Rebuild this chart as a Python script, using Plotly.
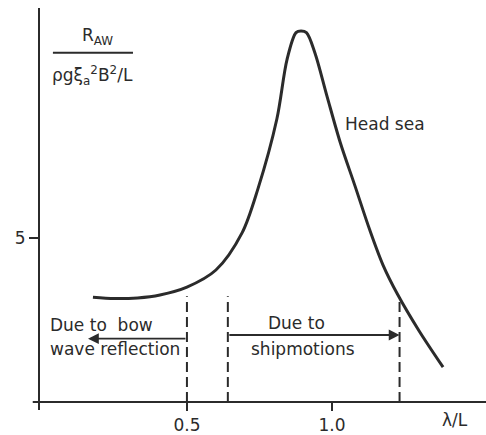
import plotly.graph_objects as go

# Curve: added resistance coefficient vs lambda/L (head sea)
lam = [0.176, 0.25, 0.33, 0.407, 0.50, 0.60, 0.69, 0.745, 0.810, 0.845, 0.876, 0.893,
       0.912, 0.941, 0.983, 1.028, 1.079, 1.131, 1.176, 1.226, 1.30, 1.383]
raw = [3.19, 3.15, 3.17, 3.26, 3.50, 4.02, 5.15, 6.50, 8.62, 10.43, 11.25, 11.30,
       11.25, 10.64, 9.31, 7.92, 6.59, 5.22, 4.17, 3.28, 2.17, 1.06]

# Dashed boundary lines (x position, top value)
bound_x = [0.5, 0.641, 1.233]
bound_top = [3.22, 3.22, 3.2]

x_ticks = [0.5, 1.0]
x_ticklabels = ["0.5", "1.0"]
y_ticks = [5]
y_ticklabels = ["5"]

INK = "#2b2b2b"
FONT = dict(family="DejaVu Sans", size=17, color=INK)

fig = go.Figure()
fig.add_trace(go.Scatter(x=lam, y=raw, mode="lines",
                         line=dict(color=INK, width=3, shape="spline", smoothing=0.9),
                         hoverinfo="skip", showlegend=False))

for bx, bt in zip(bound_x, bound_top):
    fig.add_shape(type="line", x0=bx, x1=bx, y0=0, y1=bt, xref="x", yref="y",
                  line=dict(color=INK, width=2, dash="10px,5px"))

# axes lines with slight overhang
fig.add_shape(type="line", xref="paper", yref="paper", x0=-0.014, x1=1, y0=0, y1=0,
              line=dict(color=INK, width=2))
fig.add_shape(type="line", xref="paper", yref="paper", x0=0, x1=0, y0=-0.02, y1=1,
              line=dict(color=INK, width=2))

# fraction bar of y label
fig.add_shape(type="line", xref="x", yref="y", x0=0.038, x1=0.314, y0=10.64, y1=10.64,
              line=dict(color=INK, width=2))

ann = []
ann.append(dict(x=0.19, y=11.12, text="R<sub>AW</sub>", showarrow=False, font=FONT,
                xanchor="center", yanchor="middle"))
ann.append(dict(x=0.176, y=9.95, text="ρgξ<sub>a</sub><sup>2</sup>B<sup>2</sup>/L",
                showarrow=False, font=FONT, xanchor="center", yanchor="middle"))
ann.append(dict(x=0.021, y=2.36, text="Due to  bow", showarrow=False, font=FONT,
                xanchor="left", yanchor="middle"))
ann.append(dict(x=0.021, y=1.60, text="wave reflection", showarrow=False, font=FONT,
                xanchor="left", yanchor="middle"))
ann.append(dict(x=0.879, y=2.42, text="Due to", showarrow=False, font=FONT,
                xanchor="center", yanchor="middle"))
ann.append(dict(x=0.90, y=1.60, text="shipmotions", showarrow=False, font=FONT,
                xanchor="center", yanchor="middle"))
ann.append(dict(x=1.038, y=8.46, text="Head sea", showarrow=False, font=FONT,
                xanchor="left", yanchor="middle"))
ann.append(dict(x=1.424, y=-0.045, xref="x", yref="paper", text="λ/L", showarrow=False,
                font=FONT, xanchor="center", yanchor="middle"))
# arrows
ann.append(dict(x=0.159, y=1.93, ax=0.5, ay=1.93, axref="x", ayref="y", xref="x", yref="y",
                text="", showarrow=True, arrowhead=2, arrowsize=1.2, arrowwidth=1.8,
                arrowcolor=INK))
ann.append(dict(x=1.233, y=2.04, ax=0.641, ay=2.04, axref="x", ayref="y", xref="x", yref="y",
                text="", showarrow=True, arrowhead=2, arrowsize=1.2, arrowwidth=1.8,
                arrowcolor=INK))

fig.update_layout(
    width=486, height=435,
    margin=dict(l=39, r=0, t=8, b=30),
    paper_bgcolor="white", plot_bgcolor="white",
    annotations=ann,
    xaxis=dict(range=[-0.01, 1.531], showgrid=False, zeroline=False, showline=False,
               tickvals=x_ticks, ticktext=x_ticklabels, ticks="outside", ticklen=8,
               tickwidth=2, tickcolor=INK, tickfont=FONT),
    yaxis=dict(range=[0, 12], showgrid=False, zeroline=False, showline=False,
               tickvals=y_ticks, ticktext=y_ticklabels, ticks="outside", ticklen=9,
               tickwidth=2, tickcolor=INK, tickfont=FONT),
)

fig.write_html("out.html", config={"displayModeBar": False},
               post_script="document.body.style.margin='0px';document.body.style.overflow='hidden';")
